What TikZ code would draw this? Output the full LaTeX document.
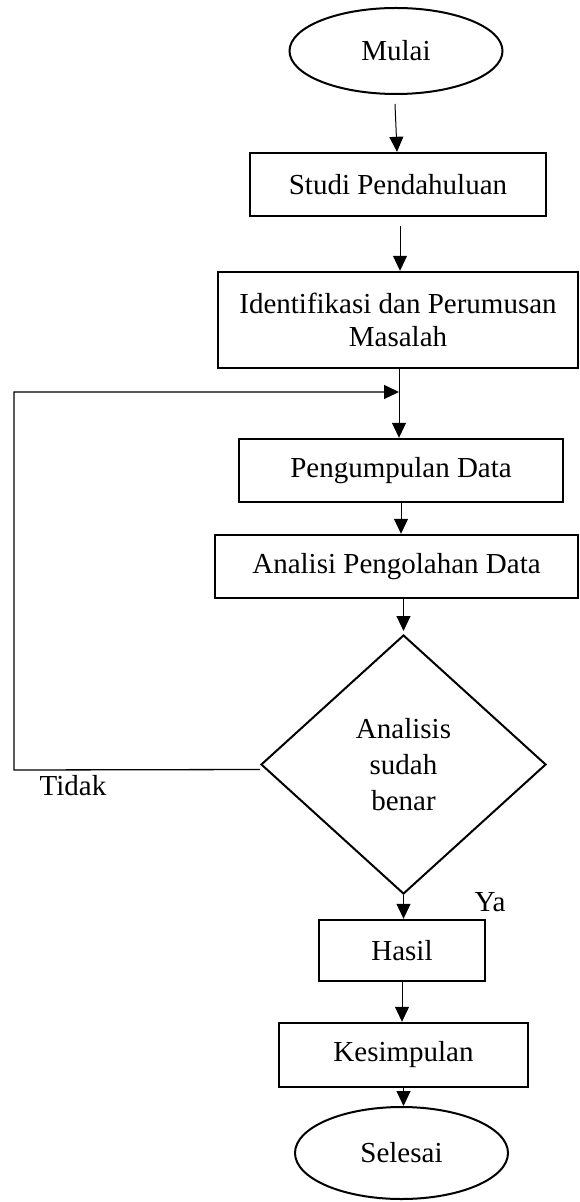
\documentclass[tikz,border=0pt]{standalone}
\usepackage{fontspec}
\setmainfont{Liberation Serif}
\usetikzlibrary{shapes.geometric,arrows.meta,calc}
\begin{document}
\begin{tikzpicture}[x=0.5pt,y=-0.5pt,
  every node/.style={font=\fontsize{14.5pt}{16.5pt}\selectfont, inner sep=0pt},
  procbox/.style={draw, line width=1.2pt, rectangle, align=center},
  termnode/.style={draw, line width=1pt, ellipse},
  decnode/.style={draw, line width=1pt, diamond, align=center, font=\fontsize{14.5pt}{18pt}\selectfont},
  arr/.style={line width=0.5pt, -{Triangle[length=7.5pt,width=7pt]}},
  loopline/.style={line width=0.65pt, -{Triangle[length=7.5pt,width=7pt]}}]
\useasboundingbox (0,0) rectangle (579,1202);
\node[termnode, minimum width=106.5pt, minimum height=43pt] (mulai) at (396,51) {Mulai};
\node[procbox, minimum width=148pt, minimum height=31.5pt] (studi) at (398,184.5) {Studi Pendahuluan};
\node[procbox, minimum width=180pt, minimum height=48pt] (ident) at (398,320) {Identifikasi dan Perumusan\\Masalah};
\node[procbox, minimum width=162pt, minimum height=31.5pt] (peng) at (401,470.5) {Pengumpulan Data};
\node[procbox, minimum width=181.5pt, minimum height=31.5pt] (anal) at (396.5,566.5) {Analisi Pengolahan Data};
\node[decnode, minimum width=142.5pt, minimum height=129.5pt] (dec) at (403.5,764.5) {Analisis\\sudah\\benar};
\node[procbox, minimum width=83pt, minimum height=30.5pt] (hasil) at (402,950.5) {Hasil};
\node[procbox, minimum width=124.5pt, minimum height=32pt] (kes) at (403.5,1055) {Kesimpulan};
\node[termnode, minimum width=106.5pt, minimum height=46pt] (sel) at (401.5,1153) {Selesai};
\node (tidak) at (73,786) {Tidak};
\node (ya) at (490,902) {Ya};
\coordinate (fbBL) at (14,770);
\coordinate (fbTL) at (14,392);
\coordinate (fbEnd) at (399,392);
\draw[arr] ([xshift=-0.5pt,yshift=-4.5pt]mulai.south) -- ([xshift=-0.5pt]studi.north);
\draw[arr] ([xshift=1pt,yshift=-4.5pt]studi.south) -- ([xshift=1pt]ident.north);
\draw[arr] ([xshift=0.5pt]ident.south) -- ([xshift=0.5pt]ident.south |- peng.north);
\draw[loopline] ([yshift=-2.5pt]dec.west) -- (fbBL) -- (fbTL) -- (fbEnd);
\draw[arr] (peng.south) -- (peng.south |- anal.north);
\draw[arr] (dec.north |- anal.south) -- ([yshift=1.5pt]dec.north);
\draw[arr] (dec.south) -- (dec.south |- hasil.north);
\draw[arr] (hasil.south) -- (hasil.south |- kes.north);
\draw[arr] (kes.south) -- (kes.south |- sel.north);
\end{tikzpicture}
\end{document}
